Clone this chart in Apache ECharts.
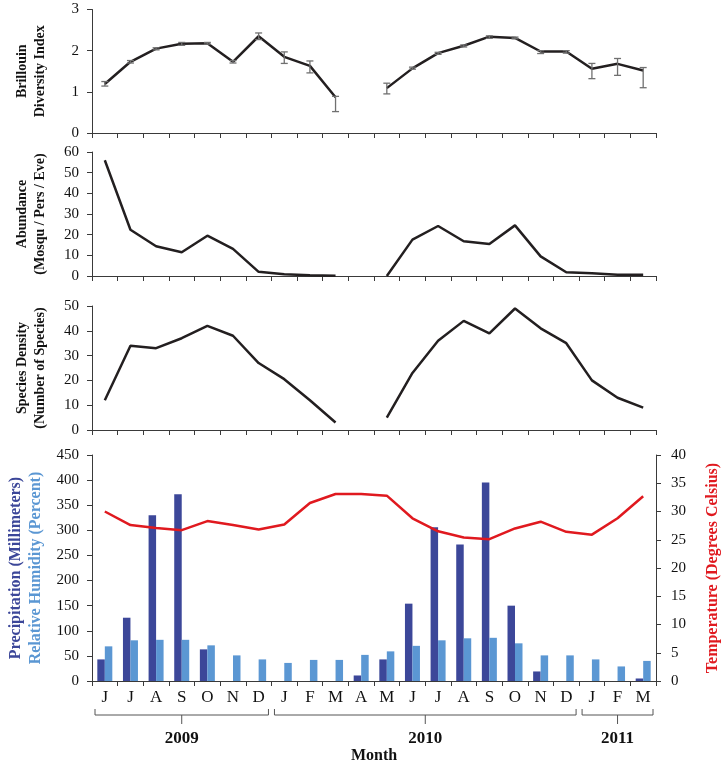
<!DOCTYPE html>
<html><head><meta charset="utf-8">
<script src="https://cdn.jsdelivr.net/npm/echarts@6/dist/echarts.min.js"></script>
<style>html,body{margin:0;padding:0;background:#fff}#c{width:725px;height:765px}</style>
</head><body><div id="c"></div>
<script>
const months = ['J','J','A','S','O','N','D','J','F','M','A','M','J','J','A','S','O','N','D','J','F','M'];
const brillouin     = [1.19,1.73,2.05,2.17,2.18,1.73,2.35,1.85,1.63,0.87,null,1.09,1.57,1.94,2.12,2.34,2.31,1.98,1.98,1.56,1.68,1.52];
const brillouinLow  = [1.14,1.70,2.02,2.13,2.16,1.70,2.27,1.69,1.46,0.52,null,0.95,1.55,1.91,2.09,2.30,2.29,1.93,1.94,1.32,1.40,1.10];
const brillouinHigh = [1.25,1.76,2.07,2.20,2.20,1.76,2.43,1.97,1.75,0.89,null,1.21,1.60,1.96,2.14,2.36,2.33,2.00,2.00,1.69,1.81,1.59];
const abundance     = [56,22.4,14.4,11.5,19.5,13.1,2,0.9,0.4,0.1,null,0,17.6,24.2,16.8,15.5,24.5,9.5,1.8,1.3,0.6,0.6];
const speciesDensity= [12,34,33,37,42,38,27,20.5,12,3,null,5,23,36,44,39,49,41,35,20,13,9];
const precipitation = [43,126,330,372,63,0,0,0,0,0,11,43,154,306,272,395,150,19,0,0,0,5];
const humidity      = [69,81,82,82,71,51,43,36,42,42,52,59,70,81,85,86,75,51,51,43,29,40];
const temperature   = [30.0,27.6,27.1,26.7,28.3,27.6,26.8,27.7,31.5,33.1,33.1,32.8,28.8,26.5,25.4,25.1,27.0,28.2,26.4,25.9,28.8,32.7];
const yearLabels = ['2009','2010','2011'];
const yearStart  = [0,7,19];
const yearEnd    = [6,18,21];

const FONT = 'Liberation Serif';
const AX = '#3a3a3a';
const DARK = '#3c4799';
const LIGHT = '#5b97d3';
const RED = '#e0191f';
const LINE = '#231f20';

const chart = echarts.init(document.getElementById('c'), null, {renderer:'canvas'});

const grids = [
  {left:92, right:69, top:9.5, height:123.5, outerBoundsMode:'none'},
  {left:92, right:69, top:152, height:124, outerBoundsMode:'none'},
  {left:92, right:69, top:306, height:124, outerBoundsMode:'none'},
  {left:92, right:69, top:455, height:226, outerBoundsMode:'none'}
];

function xAx(i, showLabels){
  return {
    type:'category', gridIndex:i, data:months, boundaryGap:true,
    axisLine:{lineStyle:{color:AX, width:1}},
    axisTick:{show:true, interval:0, length:5, lineStyle:{color:AX}},
    axisLabel:{show:showLabels, interval:0, margin:8, color:'#111', fontFamily:FONT, fontSize:17},
    splitLine:{show:false}
  };
}
function yAx(i, min, max, interval, name, nameGap, extra){
  return Object.assign({
    type:'value', gridIndex:i, min:min, max:max, interval:interval,
    axisLine:{show:true, lineStyle:{color:AX, width:1}},
    axisTick:{show:true, length:5, lineStyle:{color:AX}},
    axisLabel:{color:'#111', fontFamily:FONT, fontSize:15, margin:13},
    splitLine:{show:false},
    name:name, nameLocation:'middle', nameRotate:90, nameGap:nameGap,
    nameTextStyle:{fontFamily:FONT, fontWeight:'bold', fontSize:14, color:'#111', lineHeight:18}
  }, extra||{});
}

const errData = [];
months.forEach((m,i)=>{ if(brillouinLow[i]!=null) errData.push([i, brillouinLow[i], brillouinHigh[i]]); });

chart.setOption({
  animation:false,
  backgroundColor:'#fff',
  grid:grids,
  xAxis:[xAx(0,false), xAx(1,false), xAx(2,false), xAx(3,true)],
  yAxis:[
    yAx(0,0,3,1,'Brillouin\nDiversity Index',43),
    yAx(1,0,60,10,'Abundance\n(Mosqu / Pers / Eve)',43),
    yAx(2,0,50,10,'Species Density\n(Number of Species)',43),
    yAx(3,0,450,50,'{a|Precipitation (Millimeters)}\n{b|Relative Humidity (Percent)}',44,{
      nameTextStyle:{fontFamily:FONT, fontWeight:'bold', fontSize:16, lineHeight:20,
        rich:{a:{color:DARK, fontFamily:FONT, fontWeight:'bold', fontSize:16, lineHeight:20},
              b:{color:LIGHT, fontFamily:FONT, fontWeight:'bold', fontSize:16, lineHeight:20}}}
    }),
    yAx(3,0,40,5,'Temperature (Degrees Celsius)',49,{
      position:'right',
      axisLabel:{color:'#111', fontFamily:FONT, fontSize:15, margin:15},
      nameTextStyle:{fontFamily:FONT, fontWeight:'bold', fontSize:16, color:RED}
    })
  ],
  series:[
    {type:'line', xAxisIndex:0, yAxisIndex:0, data:brillouin, symbol:'none', connectNulls:false,
      lineStyle:{color:LINE, width:2.5}, z:3},
    {type:'custom', xAxisIndex:0, yAxisIndex:0, data:errData, z:4,
      renderItem:function(params, api){
        const x = api.value(0);
        const lo = api.coord([x, api.value(1)]);
        const hi = api.coord([x, api.value(2)]);
        const w = 3.5;
        const st = {stroke:'#707070', lineWidth:1.3};
        return {type:'group', children:[
          {type:'line', shape:{x1:lo[0],y1:lo[1],x2:hi[0],y2:hi[1]}, style:st},
          {type:'line', shape:{x1:lo[0]-w,y1:lo[1],x2:lo[0]+w,y2:lo[1]}, style:st},
          {type:'line', shape:{x1:hi[0]-w,y1:hi[1],x2:hi[0]+w,y2:hi[1]}, style:st}
        ]};
      }},
    {type:'line', xAxisIndex:1, yAxisIndex:1, data:abundance, symbol:'none', connectNulls:false,
      lineStyle:{color:LINE, width:2.5}},
    {type:'line', xAxisIndex:2, yAxisIndex:2, data:speciesDensity, symbol:'none', connectNulls:false,
      lineStyle:{color:LINE, width:2.5}},
    {type:'bar', xAxisIndex:3, yAxisIndex:3, data:precipitation, barWidth:7.5, barGap:'0%',
      itemStyle:{color:DARK}},
    {type:'bar', xAxisIndex:3, yAxisIndex:3, data:humidity, barWidth:7.5, barGap:'0%',
      itemStyle:{color:LIGHT}},
    {type:'line', xAxisIndex:3, yAxisIndex:4, data:temperature, symbol:'none',
      lineStyle:{color:RED, width:2.5}, z:5}
  ]
});

// Year brackets under the month axis, positioned from the axis scale
const c0 = chart.convertToPixel({xAxisIndex:3}, 0);
const c1 = chart.convertToPixel({xAxisIndex:3}, 1);
const band = c1 - c0;
const base = chart.convertToPixel({yAxisIndex:3}, 0);
const yLine = base + 34;
const graphics = [];
yearLabels.forEach((lab, k)=>{
  const xs = chart.convertToPixel({xAxisIndex:3}, yearStart[k]) - band/2 + 3;
  const xe = chart.convertToPixel({xAxisIndex:3}, yearEnd[k]) + band/2 - 3;
  const mid = (xs + xe)/2;
  graphics.push({type:'polyline', silent:true,
    shape:{points:[[xs,yLine-6],[xs,yLine],[xe,yLine],[xe,yLine-6]]},
    style:{stroke:'#555', lineWidth:1, fill:null}});
  graphics.push({type:'line', silent:true,
    shape:{x1:mid,y1:yLine,x2:mid,y2:yLine+9}, style:{stroke:'#555', lineWidth:1}});
  graphics.push({type:'text', silent:true, x:mid, y:yLine+24,
    style:{text:lab, fontFamily:FONT, fontWeight:'bold', fontSize:17, fill:'#111', align:'center', verticalAlign:'middle'}});
});
const xMid = (chart.convertToPixel({xAxisIndex:3}, 0) + chart.convertToPixel({xAxisIndex:3}, months.length-1))/2;
graphics.push({type:'text', silent:true, x:xMid, y:yLine+41,
  style:{text:'Month', fontFamily:FONT, fontWeight:'bold', fontSize:16, fill:'#111', align:'center', verticalAlign:'middle'}});
chart.setOption({graphic:graphics});
</script>
</body></html>
